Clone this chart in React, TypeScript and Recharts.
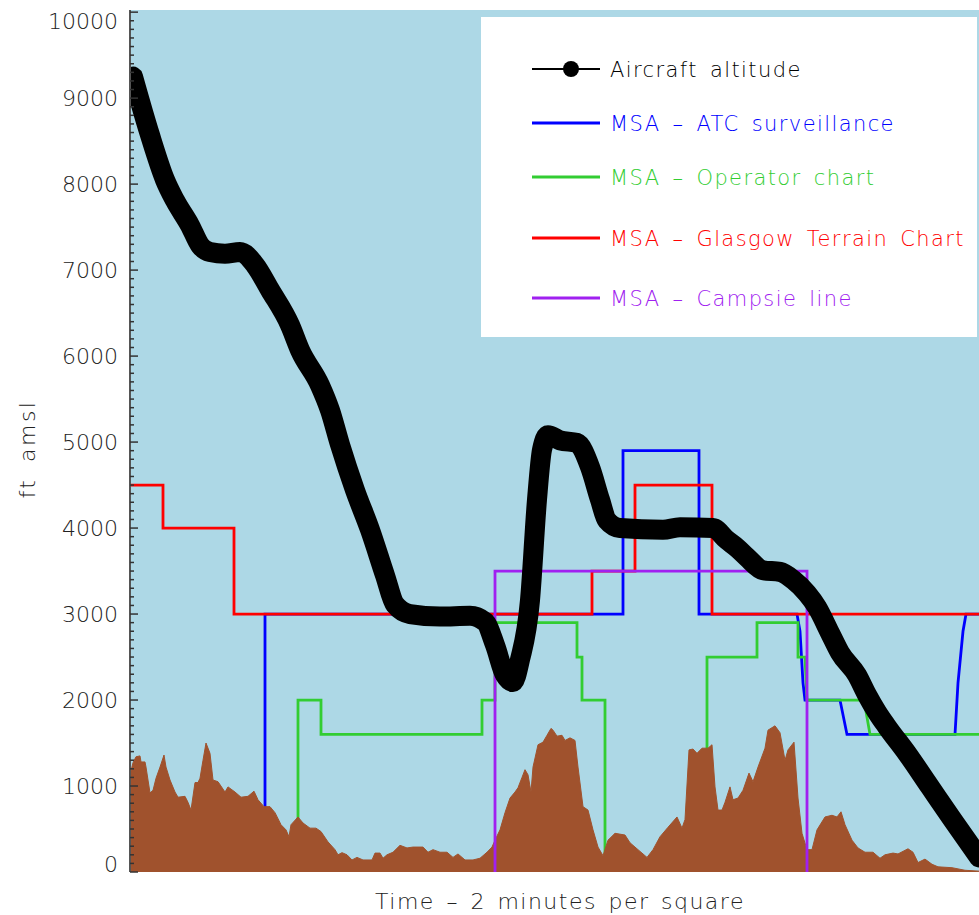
import { ComposedChart, Line, Area, XAxis, YAxis, CartesianGrid } from "recharts";

const FONT = '"DejaVu Sans", Verdana, sans-serif';

// x = time along the approach (arbitrary units, 0..849), y = feet amsl
const altitude: [number, number][] = [
  [3, 9250], [20, 8570], [35, 8050], [45, 7810], [60, 7520], [70, 7290], [80, 7210],
  [95, 7190], [110, 7210], [125, 7060], [140, 6770], [160, 6360], [170, 6070],
  [190, 5660], [200, 5370], [210, 4970], [225, 4440], [240, 3980], [255, 3450],
  [265, 3110], [280, 3000], [310, 2970], [340, 2980], [355, 2910], [365, 2640],
  [375, 2290], [383, 2210], [390, 2470], [400, 3160], [407, 4330], [412, 4910],
  [418, 5080], [430, 5020], [447, 4990], [460, 4710], [470, 4330], [477, 4090],
  [490, 4000], [533, 3980], [550, 4010], [583, 4000], [597, 3860], [607, 3770],
  [617, 3660], [633, 3510], [650, 3490], [663, 3400], [677, 3240], [687, 3080],
  [700, 2780], [710, 2550], [727, 2290], [737, 2060], [747, 1860], [757, 1690],
  [777, 1380], [800, 990], [823, 600], [849, 170],
];

const msaAtc: [number, number][] = [
  [135, 0], [135, 3000], [493, 3000], [493, 4900], [569, 4900], [569, 3000],
  [667, 3000], [670, 2800], [673, 2200], [675, 2000], [710, 2000], [717, 1600],
  [825, 1600], [828, 2200], [833, 2800], [836, 3000], [849, 3000],
];

// null = gap in the line
const msaOperator: [number, number | null][] = [
  [168, 0], [168, 2000], [191, 2000], [191, 1600], [352, 1600], [352, 2000],
  [365, 2000], [365, 2900], [447, 2900], [447, 2500], [452, 2500], [452, 2000],
  [475, 2000], [475, 0], [526, null], [577, 0], [577, 2500], [627, 2500], [627, 2900],
  [668, 2900], [668, 2500], [675, 2500], [677, 2000], [734, 2000], [740, 1600],
  [849, 1600],
];

const msaGlasgow: [number, number][] = [
  [0, 4500], [33, 4500], [33, 4000], [104, 4000], [104, 3000], [462, 3000],
  [462, 3500], [505, 3500], [505, 4500], [582, 4500], [582, 3000], [849, 3000],
];

const msaCampsie: [number, number][] = [
  [365, 0], [365, 3500], [677, 3500], [677, 0],
];

const terrain: [number, number][] = [
  [0, 1130], [3, 1270], [6, 1340], [10, 1350], [11, 1280], [15, 1280], [16, 1220],
  [20, 920], [23, 950], [26, 1090], [30, 1220], [34, 1360], [36, 1220], [40, 1070],
  [45, 930], [48, 870], [55, 880], [58, 810], [61, 720], [65, 1040], [68, 1040],
  [70, 1090], [73, 1300], [76, 1500], [80, 1380], [83, 1070], [88, 1050], [95, 930],
  [98, 990], [105, 930], [111, 870], [118, 880], [124, 940], [128, 840], [134, 760],
  [140, 760], [145, 690], [151, 550], [156, 490], [159, 410], [161, 550], [168, 640],
  [173, 570], [180, 510], [186, 510], [191, 470], [198, 350], [205, 260], [208, 200],
  [212, 225], [217, 200], [222, 140], [227, 170], [233, 140], [242, 140], [245, 220],
  [250, 220], [253, 160], [257, 200], [263, 230], [270, 310], [277, 280], [283, 290],
  [293, 290], [298, 230], [303, 260], [310, 230], [317, 230], [323, 170], [328, 210],
  [335, 140], [343, 140], [350, 160], [357, 230], [362, 290], [365, 370], [370, 490],
  [375, 690], [380, 860], [385, 930], [388, 980], [392, 1100], [395, 1190], [398, 1130],
  [401, 930], [403, 1220], [408, 1480], [413, 1510], [417, 1590], [421, 1670],
  [423, 1650], [427, 1580], [432, 1590], [435, 1530], [440, 1560], [445, 1530],
  [448, 1220], [453, 760], [458, 720], [463, 490], [468, 290], [473, 190], [478, 370],
  [485, 450], [495, 430], [500, 340], [508, 260], [517, 170], [523, 260], [530, 410],
  [538, 520], [547, 640], [552, 510], [555, 610], [559, 1420], [563, 1430], [567, 1380],
  [572, 1440], [578, 1440], [582, 1480], [585, 990], [588, 720], [592, 720], [595, 810],
  [600, 990], [603, 840], [608, 860], [613, 950], [619, 1150], [623, 1050], [628, 1220],
  [635, 1440], [638, 1650], [645, 1700], [650, 1620], [655, 1300], [658, 1420],
  [664, 1510], [668, 860], [672, 450], [677, 260], [682, 260], [687, 490], [695, 640],
  [702, 660], [707, 640], [711, 700], [715, 550], [722, 370], [728, 280], [735, 230],
  [743, 230], [750, 160], [755, 200], [763, 220], [768, 210], [778, 270], [783, 230],
  [788, 110], [795, 150], [802, 90], [808, 60], [822, 50], [835, 20], [849, 10],
];

const majorTicks = [0, 1000, 2000, 3000, 4000, 5000, 6000, 7000, 8000, 9000, 10000];
const allTicks = majorTicks.flatMap((v) =>
  v === 10000 ? [v] : Array.from({ length: 10 }, (_, i) => v + i * 100)
);

const legendItems = [
  { label: "Aircraft altitude", color: "#000000", marker: true },
  { label: "MSA – ATC surveillance", color: "#0000ff", marker: false },
  { label: "MSA – Operator chart", color: "#32cd32", marker: false },
  { label: "MSA – Glasgow Terrain Chart", color: "#ff0000", marker: false },
  { label: "MSA – Campsie line", color: "#a020f0", marker: false },
];
const legendRowY = [52, 106, 160, 221, 281];

const rows = (pts: [number, number | null][]) => pts.map(([t, ft]) => ({ t, ft }));

function YTick(props: any) {
  const { x, y, payload } = props;
  const v = payload.value;
  const major = v % 1000 === 0;
  // the end labels are pulled inside the axis range
  const shift = v === 10000 ? 9 : v === 0 ? -8 : 0;
  return (
    <g>
      <line x1={x} x2={x + (major ? 8 : 4)} y1={y} y2={y} stroke="#333" strokeWidth={1.5} />
      {major && (
        <text x={x - 12} y={y + shift} dy={8} textAnchor="end" fontSize={22} fill="#222"
          fontFamily={FONT} fontWeight={200}>
          {v}
        </text>
      )}
    </g>
  );
}

export default function App() {
  return (
    <div style={{ position: "absolute", left: 0, top: 0, width: 979, height: 915, background: "#fff", fontFamily: FONT }}>
      <ComposedChart width={979} height={915} margin={{ top: 10, right: 0, bottom: 43, left: 0 }}>
        <CartesianGrid fill="#add8e6" stroke="none" horizontal={false} vertical={false} />
        <XAxis type="number" dataKey="t" domain={[0, 849]} allowDataOverflow hide />
        <YAxis type="number" width={130} domain={[0, 10025]} ticks={allTicks} interval={0}
          tick={<YTick />} tickLine={false} tickSize={0} tickMargin={0}
          axisLine={{ stroke: "#555", strokeWidth: 2 }} />
        <Line data={rows(msaAtc)} dataKey="ft" type="linear" stroke="#0000ff" strokeWidth={2.8}
          dot={false} isAnimationActive={false} zIndex={90} />
        <Line data={rows(msaOperator)} dataKey="ft" type="linear" stroke="#32cd32" strokeWidth={2.8}
          dot={false} connectNulls={false} isAnimationActive={false} zIndex={90} />
        <Line data={rows(msaGlasgow)} dataKey="ft" type="linear" stroke="#ff0000" strokeWidth={2.8}
          dot={false} isAnimationActive={false} zIndex={90} />
        <Area data={rows(terrain)} dataKey="ft" type="linear" fill="#a0522d" fillOpacity={1}
          stroke="#a0522d" strokeWidth={1} baseValue={0} dot={false} activeDot={false}
          isAnimationActive={false} zIndex={100} />
        <Line data={rows(msaCampsie)} dataKey="ft" type="linear" stroke="#a020f0" strokeWidth={2.8}
          dot={false} isAnimationActive={false} zIndex={400} />
        <Line data={rows(altitude)} dataKey="ft" type="monotone" stroke="#000" strokeWidth={20}
          strokeLinecap="round" strokeLinejoin="round" dot={false} isAnimationActive={false} zIndex={450} />
      </ComposedChart>

      <div style={{ position: "absolute", left: 481, top: 17, width: 496, height: 320, background: "#fff" }}>
        <svg width={496} height={320} style={{ position: "absolute", left: 0, top: 0 }}>
          {legendItems.map((it, i) => (
            <g key={it.label}>
              <line x1={51} x2={119} y1={legendRowY[i]} y2={legendRowY[i]} stroke={it.color}
                strokeWidth={it.marker ? 2 : 3} />
              {it.marker && <circle cx={90} cy={legendRowY[i]} r={8} fill="#000" />}
              <text x={129} y={legendRowY[i]} dy={8} fontSize={21} fill={it.color}
                fontFamily={FONT} fontWeight={200} letterSpacing={1.4} wordSpacing={4}>
                {it.label}
              </text>
            </g>
          ))}
        </svg>
      </div>

      <div style={{ position: "absolute", left: 310, width: 500, top: 889, textAlign: "center",
        fontSize: 22, fontWeight: 200, color: "#222", letterSpacing: 1.5, wordSpacing: 3 }}>
        Time – 2 minutes per square
      </div>
      <div style={{ position: "absolute", left: 27, top: 449, transform: "translate(-50%, -50%) rotate(-90deg)",
        fontSize: 22, fontWeight: 200, color: "#222", whiteSpace: "nowrap", letterSpacing: 2.5, wordSpacing: 6 }}>
        ft amsl
      </div>
    </div>
  );
}
